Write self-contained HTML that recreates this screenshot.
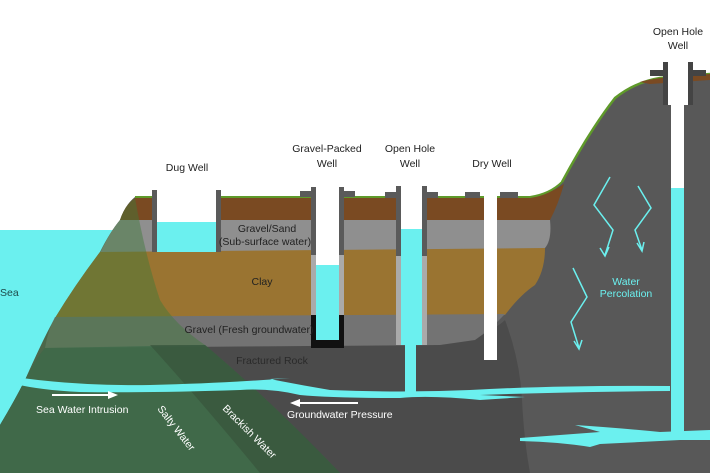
<!DOCTYPE html>
<html><head><meta charset="utf-8"><style>
html,body{margin:0;padding:0;background:#fff;width:710px;height:473px;overflow:hidden}
svg{display:block}
text{font-family:"Liberation Sans",sans-serif;font-size:10.5px}
</style></head><body>
<svg width="710" height="473" viewBox="0 0 710 473" xmlns="http://www.w3.org/2000/svg">
<rect width="710" height="473" fill="#fff"/>
<!-- sea -->
<rect x="0" y="230" width="160" height="243" fill="#6bf0ef"/>
<!-- full ground -->
<path d="M135,197 L530,197 Q550,194 562,182 Q590,130 615,98 Q635,82 660,78 L710,74 L710,473 L0,473 L0,425 Q15,400 25,380 Q45,335 55,318 Q75,285 100,252 Q110,232 120,220 Q125,205 135,197 Z" fill="#585858"/>
<!-- lower dark ground -->
<path d="M45,348 L440,345 Q490,335 505,320 Q520,360 522,400 Q524,440 530,473 L0,473 L0,425 Q15,400 25,380 Q35,360 45,348 Z" fill="#4b4b4b"/>
<path d="M562,182 Q590,130 615,98 Q635,82 660,78 L710,74" fill="none" stroke="#5f9a2a" stroke-width="2.5"/>
<path d="M640,82 Q655,77 710,74 L710,80 L650,84 Z" fill="#7a4a22"/>
<!-- topsoil -->
<path d="M135,198 Q125,205 120,220 L550,220 Q558,205 564,184 Q548,195 530,197 Z" fill="#7a4a22"/>
<path d="M135,197 L530,197 Q550,194 562,182" fill="none" stroke="#5f9a2a" stroke-width="2"/>
<!-- gravel/sand -->
<path d="M120,220 L550,220 Q552,240 545,248 Q520,252 500,252 L100,253 Q110,232 120,220 Z" fill="#8f8f8f"/>
<!-- clay -->
<path d="M100,252 L545,248 Q545,270 535,285 Q520,295 505,315 L55,318 Q75,285 100,252 Z" fill="#9a7431"/>
<!-- gravel fresh -->
<path d="M55,317 L505,314 Q490,330 475,340 L440,345 L45,348 Q48,330 55,317 Z" fill="#737373"/>
<!-- green overlays -->
<path d="M135,198 Q125,205 120,220 Q110,232 100,252 Q75,285 55,318 Q45,335 25,380 Q15,400 0,425 L0,473 L340,473 Q270,400 205,345 Q175,325 160,300 Q145,255 135,198 Z" fill="#3e7a3a" fill-opacity="0.45"/>
<path d="M25,380 Q15,400 0,425 L0,473 L340,473 Q270,400 205,345 L45,348 Q35,360 25,380 Z" fill="#3f6b4b" fill-opacity="0.8"/>
<path d="M150,345 Q200,400 260,473 L340,473 Q270,400 205,345 Z" fill="#37543c" fill-opacity="0.7"/>
<!-- fractures -->
<path d="M22,378 Q80,386 150,385 Q230,383 290,378 L270,379 Q300,385 330,390 Q400,393 470,390 Q560,385 670,386 L670,391 Q560,392 480,395 L525,397 L480,400 Q430,395 400,398 Q330,398 300,395 Q270,388 240,390 Q150,393 80,392 Q40,390 15,384 Z" fill="#6bf0ef"/>
<path d="M405,345 L416,345 L416,392 L405,392 Z" fill="#6bf0ef"/>
<path d="M520,438 Q560,435 600,432 L575,425 Q620,428 660,432 L710,430 L710,440 L680,440 Q640,442 600,444 L590,447 Q560,442 520,441 Z" fill="#6bf0ef"/>
<!-- right well -->
<rect x="671" y="62" width="13" height="126" fill="#fff"/>
<rect x="671" y="188" width="13" height="250" fill="#6bf0ef"/>
<rect x="663" y="62" width="5" height="43" fill="#444"/>
<rect x="688" y="62" width="5" height="43" fill="#444"/>
<rect x="650" y="70" width="13" height="6" fill="#444"/>
<rect x="693" y="70" width="13" height="6" fill="#444"/>
<rect x="668" y="62" width="20" height="43" fill="#fff"/>
<!-- dug well -->
<rect x="157" y="190" width="59" height="32" fill="#fff"/>
<rect x="157" y="222" width="59" height="30" fill="#6bf0ef"/>
<rect x="152" y="190" width="5" height="62" fill="#5a5a5a"/>
<rect x="216" y="190" width="5" height="62" fill="#5a5a5a"/>
<!-- gravel packed well -->
<rect x="311" y="187" width="5" height="68" fill="#5a5a5a"/>
<rect x="339" y="187" width="5" height="68" fill="#5a5a5a"/>
<rect x="311" y="255" width="5" height="60" fill="#aaa"/>
<rect x="339" y="255" width="5" height="60" fill="#aaa"/>
<rect x="300" y="191" width="11" height="6" fill="#5a5a5a"/>
<rect x="344" y="191" width="11" height="6" fill="#5a5a5a"/>
<rect x="316" y="187" width="23" height="78" fill="#fff"/>
<rect x="311" y="315" width="33" height="33" fill="#111"/>
<rect x="316" y="265" width="23" height="75" fill="#6bf0ef"/>
<!-- open hole well -->
<rect x="396" y="186" width="5" height="70" fill="#5a5a5a"/>
<rect x="422" y="186" width="5" height="70" fill="#5a5a5a"/>
<rect x="396" y="256" width="5" height="89" fill="#aaa"/>
<rect x="422" y="256" width="5" height="89" fill="#aaa"/>
<rect x="385" y="192" width="11" height="6" fill="#5a5a5a"/>
<rect x="427" y="192" width="11" height="6" fill="#5a5a5a"/>
<rect x="401" y="186" width="21" height="43" fill="#fff"/>
<rect x="401" y="229" width="21" height="116" fill="#6bf0ef"/>
<!-- dry well -->
<rect x="465" y="192" width="15" height="6" fill="#5a5a5a"/>
<rect x="500" y="192" width="18" height="6" fill="#5a5a5a"/>
<rect x="484" y="190" width="13" height="170" fill="#fff"/>
<!-- percolation arrows -->
<g fill="none" stroke="#6bf0ef" stroke-width="1.5">
<path d="M610,177 L594,205 L613,230 L605,255 M600,248 L605,256 L609,247"/>
<path d="M638,186 L651,208 L635,230 L642,250 M637,243 L642,251 L644,242"/>
<path d="M573,268 L587,297 L571,322 L579,348 M574,341 L579,349 L582,340"/>
</g>
<!-- arrows -->
<g stroke="#fff" stroke-width="2" fill="#fff">
<line x1="52" y1="395" x2="110" y2="395"/><path d="M118,395 L108,391 L108,399 Z" stroke="none"/>
<line x1="358" y1="403" x2="298" y2="403"/><path d="M290,403 L300,399 L300,407 Z" stroke="none"/>
</g>
<!-- labels -->
<g fill="#222" text-anchor="middle">
<text x="187" y="171">Dug Well</text>
<text x="327" y="152">Gravel-Packed</text><text x="327" y="167">Well</text>
<text x="410" y="152">Open Hole</text><text x="410" y="167">Well</text>
<text x="492" y="167">Dry Well</text>
<text x="678" y="35">Open Hole</text><text x="678" y="49">Well</text>
<text x="267" y="232">Gravel/Sand</text>
<text x="265" y="245">(Sub-surface water)</text>
<text x="262" y="285">Clay</text>
<text x="249" y="333">Gravel (Fresh groundwater)</text>
<text x="272" y="364" fill="#2a2a2a">Fractured Rock</text>
</g>
<text x="0" y="296" fill="#1e4a4a">Sea</text>
<g fill="#fff">
<text x="36" y="413">Sea Water Intrusion</text>
<text x="287" y="418">Groundwater Pressure</text>
<text transform="translate(157,409) rotate(52)">Salty Water</text>
<text transform="translate(222,409) rotate(45)">Brackish Water</text>
</g>
<g fill="#6bf0ef" text-anchor="middle">
<text x="626" y="285">Water</text><text x="626" y="297">Percolation</text>
</g>
</svg>
</body></html>
